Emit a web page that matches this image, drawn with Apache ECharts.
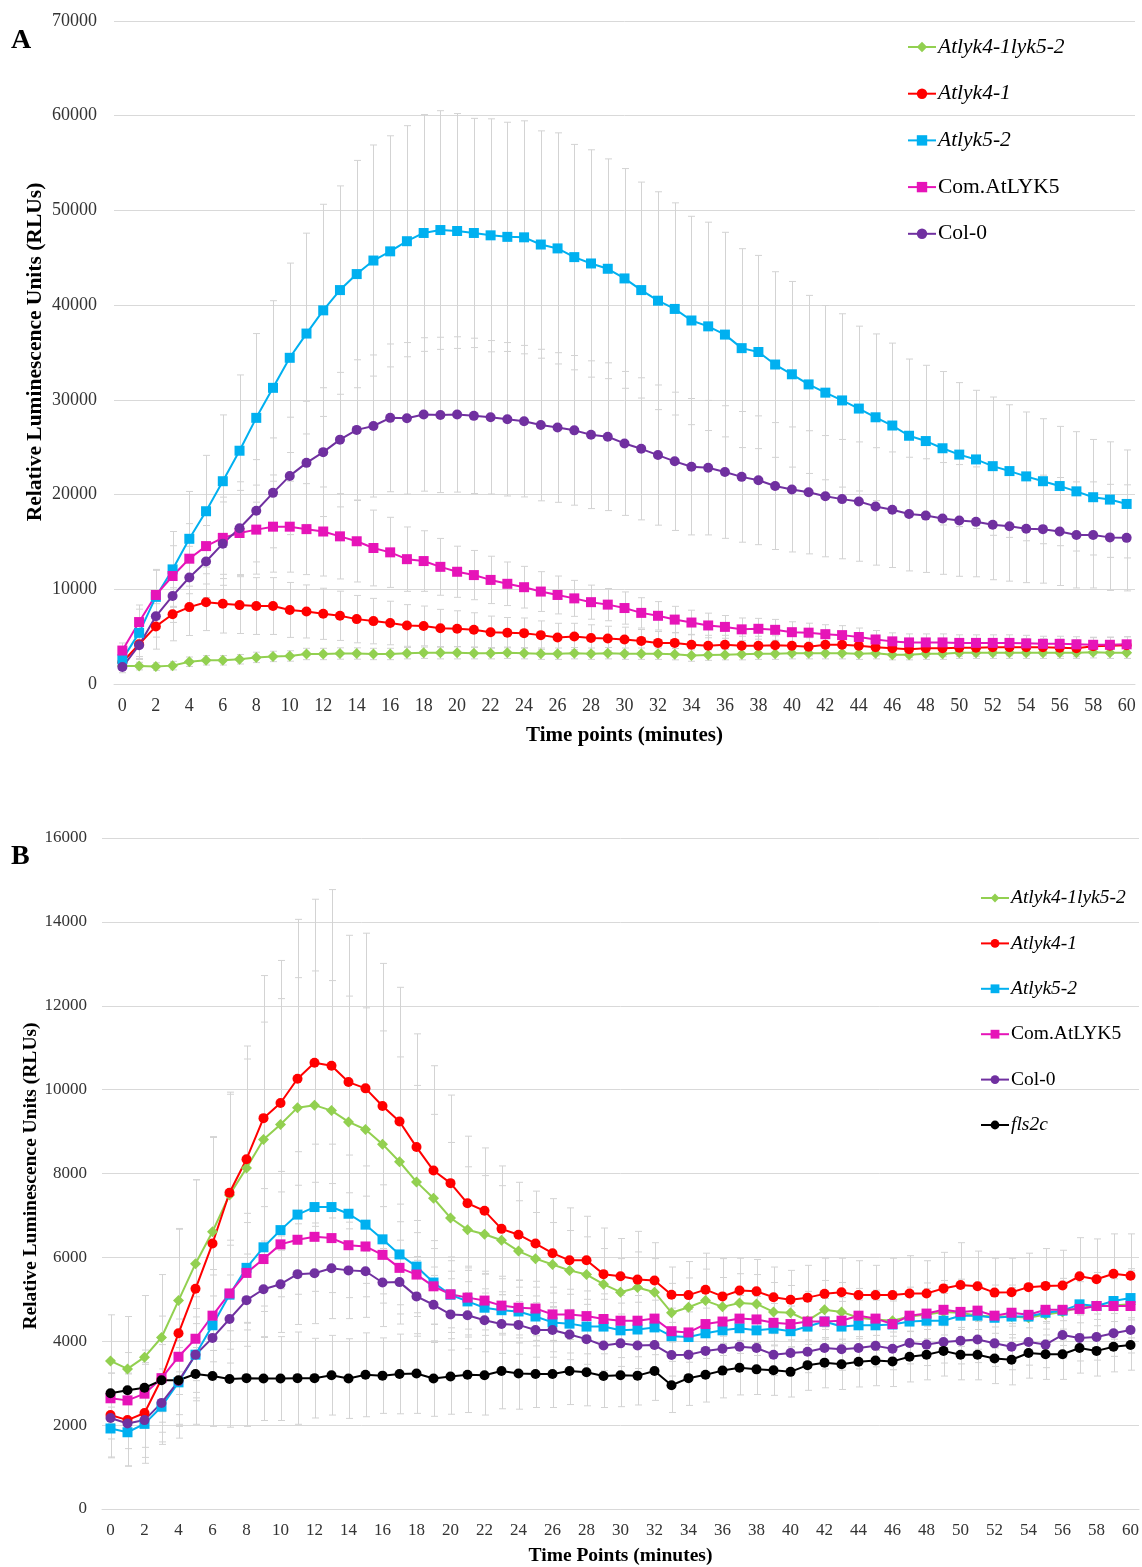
<!DOCTYPE html>
<html>
<head>
<meta charset="utf-8">
<title>Luminescence time course</title>
<script src="https://cdn.jsdelivr.net/npm/echarts@6/dist/echarts.min.js"></script>
<style>
  html, body { margin: 0; padding: 0; background: #fff; }
  #chart { width: 1142px; height: 1567px; }
</style>
</head>
<body>
<div id="chart"></div>
<script>
// x categories: time points 0..60 min
var minutes = [];
for (var m = 0; m <= 60; m++) minutes.push(String(m));

var namesA = ["Atlyk4-1lyk5-2", "Atlyk4-1", "Atlyk5-2", "Com.AtLYK5", "Col-0"];
var namesB = ["Atlyk4-1lyk5-2", "Atlyk4-1", "Atlyk5-2", "Com.AtLYK5", "Col-0", "fls2c"];
var italicNames = ["Atlyk4-1lyk5-2", "Atlyk4-1", "Atlyk5-2", "fls2c"];

// ---- panel A (RLU means) ----
var greenA = [1900,1890,1840,1940,2350,2500,2500,2610,2810,2910,2960,3170,3170,3220,3220,3170,3170,
  3250,3300,3300,3300,3250,3250,3300,3250,3200,3200,3250,3200,3250,3200,3200,3200,3150,
  3000,3050,3100,3150,3200,3200,3250,3250,3250,3250,3200,3250,3100,3100,3200,3200,3300,3300,3300,3300,3300,3300,3300,3300,3350,3300,3300];
var redA = [2300,4200,6080,7360,8120,8640,8480,8330,8230,8230,7820,7660,7410,7200,6850,6640,6440,
  6180,6130,5880,5830,5720,5470,5420,5370,5160,4910,5010,4850,4800,4700,4550,4340,4340,4140,4040,4140,4040,4040,4090,
  4040,3930,4140,4140,4040,3880,3780,3680,3780,3780,3830,3830,3880,3880,3880,3880,3830,3780,3990,4040,4090];
var cyanA = [2600,5400,9200,12100,15330,18240,21410,24630,28100,31270,34440,37000,39450,41590,43280,44710,45680,
  46750,47620,47930,47830,47620,47370,47210,47160,46400,45990,45070,44400,43840,42820,41590,40470,39600,38380,37760,36890,35460,35050,33730,
  32700,31630,30760,29940,29080,28160,27290,26210,25650,24890,24220,23710,23000,22480,21920,21410,20900,20340,19720,19470,19010];
var pinkA = [3530,6540,9400,11400,13230,14560,15430,15940,16300,16610,16610,16350,16100,15590,15070,14360,13900,
  13180,12980,12370,11850,11500,10990,10580,10220,9760,9400,9040,8640,8380,8020,7510,7200,6800,6490,6180,6030,5770,5830,5720,
  5470,5420,5260,5160,4960,4700,4500,4390,4390,4390,4340,4340,4340,4340,4290,4240,4240,4190,4140,4140,4190];
var purpleA = [1790,4090,7150,9300,11240,12930,14820,16450,18290,20180,21970,23350,24480,25800,26830,27240,28100,
  28050,28460,28410,28460,28310,28160,27950,27750,27340,27080,26780,26320,26110,25400,24830,24170,23510,22940,22840,22380,21870,21510,20900,
  20540,20240,19830,19520,19260,18750,18400,17940,17780,17480,17270,17120,16810,16660,16400,16350,16100,15740,15740,15480,15430];

// error bars (+/-) panel A
var greenErrA = [400,400,400,450,500,500,500,500,550,550,550,600,600,600,600,600,600,
  600,600,650,650,600,600,600,600,600,600,600,600,600,600,600,600,600,600,550,550,600,600,600,
  600,600,600,600,600,600,550,550,600,600,600,600,600,600,600,600,600,600,600,600,600];
var redErrA = [600,1500,2400,2800,3000,3000,3100,3000,3000,3000,2900,2800,2700,2600,2500,2400,2300,
  2200,2100,2000,1900,1800,1700,1600,1600,1500,1500,1400,1400,1300,1300,1200,1200,1100,1100,1100,1000,1000,1000,1000,
  1000,950,950,950,900,900,900,900,900,900,900,900,900,900,900,900,900,900,900,900,900];
var cyanErrA = [1000,2500,2900,4000,5000,5900,7000,8000,8900,9200,10000,10600,11200,11000,12000,12200,12200,
  12200,12500,12600,12400,12100,12300,12100,12300,12000,12200,11900,12000,11600,11600,11400,11500,11200,11000,11000,10800,10500,10200,9800,
  9800,9400,9200,9150,8700,8800,8700,8100,8000,8100,7600,7300,7300,7000,6800,6600,6300,6300,6100,6100,5700];
var pinkErrA = [800,1800,2600,3200,3700,4000,4300,4500,4700,4800,4800,4800,4700,4500,4300,4000,3700,
  3400,3200,3000,2700,2600,2500,2300,2200,2100,2000,1900,1800,1700,1700,1600,1500,1400,1300,1300,1200,1200,1100,1100,
  1100,1000,1000,1000,950,950,900,900,900,900,850,850,850,850,850,800,800,800,800,800,800];
var purpleErrA = [600,1500,2200,2800,3300,3800,4400,4900,5400,5800,6200,6500,6800,7100,7400,7500,7800,
  8000,8100,8200,8200,8200,8100,8100,8000,8000,7900,7900,7800,7800,7600,7500,7400,7300,7200,7100,7000,6900,6800,6700,
  6600,6500,6400,6300,6300,6200,6100,6000,6000,5900,5900,5800,5800,5800,5700,5700,5700,5600,5600,5600,5600];

// ---- panel B (RLU means) ----
var greenB = [3530,3340,3620,4090,4970,5850,6610,7490,8130,8810,9170,9570,9630,9500,9230,9050,8700,
  8280,7800,7410,6940,6660,6550,6410,6150,5970,5830,5690,5590,5360,5170,5280,5170,4680,4810,4970,4820,4910,4890,4700,
  4680,4490,4750,4700,4560,4520,4490,4590,4640,4700,4680,4610,4590,4590,4560,4640,4700,4800,4840,4850,4880];
var redB = [2240,2120,2290,3100,4190,5250,6330,7540,8340,9320,9680,10260,10640,10570,10180,10030,9610,
  9240,8630,8070,7770,7290,7110,6680,6540,6330,6100,5930,5930,5600,5550,5470,5450,5110,5100,5230,5070,5210,5190,5050,
  4990,5040,5130,5170,5100,5100,5100,5140,5140,5260,5340,5310,5160,5170,5290,5320,5330,5550,5480,5610,5560];
var cyanB = [1920,1830,2030,2440,3020,3680,4380,5110,5750,6240,6650,7020,7200,7200,7040,6780,6430,
  6070,5780,5400,5110,4950,4800,4740,4710,4590,4450,4420,4350,4350,4260,4280,4330,4120,4100,4190,4260,4310,4260,4300,
  4240,4350,4470,4350,4380,4380,4400,4470,4490,4490,4610,4610,4560,4590,4590,4680,4730,4880,4840,4960,5030];
var pinkB = [2640,2590,2750,3120,3630,4060,4610,5140,5630,5960,6310,6420,6490,6460,6290,6260,6060,
  5750,5590,5310,5120,5040,4970,4850,4800,4780,4640,4640,4600,4530,4490,4490,4540,4240,4210,4410,4470,4540,4520,4440,
  4410,4470,4470,4490,4610,4540,4410,4610,4660,4750,4700,4730,4610,4680,4630,4750,4750,4770,4840,4840,4840];
var purpleB = [2170,2040,2120,2530,3050,3680,4080,4530,4980,5240,5360,5600,5620,5740,5690,5670,5400,
  5410,5070,4870,4640,4620,4500,4410,4390,4270,4270,4160,4050,3900,3950,3900,3910,3670,3680,3770,3820,3870,3840,3680,
  3720,3750,3840,3810,3840,3890,3820,3960,3920,3980,4010,4040,3950,3870,3980,3920,4150,4080,4100,4190,4270];
var blackB = [2760,2830,2890,3070,3070,3220,3170,3100,3120,3110,3110,3120,3120,3190,3110,3200,3180,
  3220,3230,3110,3160,3200,3190,3290,3230,3220,3220,3290,3260,3170,3190,3180,3290,2950,3120,3200,3300,3370,3330,3310,
  3270,3430,3490,3450,3510,3540,3520,3630,3680,3770,3680,3680,3590,3560,3720,3690,3690,3840,3770,3870,3910];

// error bars (+/-) panel B
var greenErrB = [1100,1250,1470,1500,1700,2000,2250,2400,2600,2800,3000,3100,3200,3100,3000,2900,2700,
  2500,2300,2000,1800,1500,1400,1300,1200,1100,1000,950,900,850,800,850,800,700,700,750,700,700,700,700,
  650,700,700,700,700,700,700,700,750,750,800,800,750,750,750,750,800,800,800,800,800];
var redErrB = [1000,1100,1200,1500,2500,2600,2550,2400,2700,3400,3400,3800,3900,4200,3500,3700,3400,
  3200,2700,2500,2100,1600,1500,1500,1250,1250,1300,1250,1050,1100,900,1150,900,660,800,870,900,770,760,720,
  700,770,850,810,820,710,880,900,780,860,1010,840,820,810,810,890,840,920,960,950,1000];
var cyanErrB = [700,800,800,900,1000,1100,1200,1300,1300,1400,1400,1500,1500,1500,1400,1400,1300,
  1200,1100,1000,900,800,800,750,750,700,700,700,650,650,650,650,650,600,600,600,600,600,600,600,
  600,600,600,600,600,600,600,600,600,650,650,650,650,650,650,650,700,700,700,700,700];
var pinkErrB = [600,650,700,800,900,1000,1100,1150,1200,1250,1250,1300,1300,1300,1250,1200,1150,
  1100,1000,900,800,750,700,700,650,650,650,600,600,600,600,600,600,550,550,550,550,550,550,550,
  550,550,550,550,550,550,550,600,600,600,600,600,600,600,600,600,600,650,650,650,650];
var purpleErrB = [500,600,650,700,800,900,1000,1050,1100,1150,1150,1200,1200,1200,1150,1100,1050,
  1000,950,900,850,800,750,700,700,650,650,600,600,600,550,550,550,500,500,500,500,500,500,500,
  500,500,500,500,500,500,500,500,500,500,550,550,550,550,550,550,550,550,550,550,550];
var blackErrB = [800,900,900,1000,1100,1200,1200,1150,1150,1000,1000,1100,950,950,950,1000,900,
  950,950,900,900,900,950,900,850,800,800,800,800,750,750,700,700,650,650,650,650,650,600,600,
  600,600,600,600,600,600,600,600,600,600,600,600,600,600,600,600,600,600,600,600,600];

var styles = {
  "Atlyk4-1lyk5-2": { color: "#92D050", symbol: "diamond", size: 11 },
  "Atlyk4-1": { color: "#FF0000", symbol: "circle", size: 10 },
  "Atlyk5-2": { color: "#00B0F0", symbol: "rect", size: 10 },
  "Com.AtLYK5": { color: "#E614B8", symbol: "rect", size: 10 },
  "Col-0": { color: "#7030A0", symbol: "circle", size: 10 },
  "fls2c": { color: "#000000", symbol: "circle", size: 10 }
};

var SERIF = "Liberation Serif";
var Y_TITLE = "Relative Luminescence Units (RLUs)";

// grey error bar with caps
function renderErr(params, api) {
  var x = api.value(0);
  var lo = api.coord([x, api.value(1)]);
  var hi = api.coord([x, api.value(2)]);
  var w = 3.5;
  var cx = Math.round(lo[0]) + 0.5;
  var st = { stroke: "#D3D3D3", lineWidth: 1 };
  return {
    type: "group",
    children: [
      { type: "line", shape: { x1: cx, y1: lo[1], x2: cx, y2: hi[1] }, style: st },
      { type: "line", shape: { x1: cx - w, y1: lo[1], x2: cx + w, y2: lo[1] }, style: st },
      { type: "line", shape: { x1: cx - w, y1: hi[1], x2: cx + w, y2: hi[1] }, style: st }
    ]
  };
}

function panelSeries(axisIndex, names, values, errors) {
  var out = [];
  names.forEach(function (name, k) {
    out.push({
      name: name + " SD",
      type: "custom",
      xAxisIndex: axisIndex,
      yAxisIndex: axisIndex,
      renderItem: renderErr,
      encode: { x: 0, y: [1, 2] },
      silent: true,
      z: 2,
      data: values[k].map(function (v, i) {
        return [i, v - errors[k][i], v + errors[k][i]];
      })
    });
  });
  names.forEach(function (name, k) {
    var st = styles[name];
    out.push({
      name: name,
      type: "line",
      xAxisIndex: axisIndex,
      yAxisIndex: axisIndex,
      data: values[k],
      symbol: st.symbol,
      symbolSize: st.size,
      showAllSymbol: true,
      color: st.color,
      lineStyle: { width: 2, color: st.color },
      itemStyle: { color: st.color },
      z: 3
    });
  });
  return out;
}

function legendFormatter(name) {
  return italicNames.indexOf(name) >= 0 ? "{i|" + name + "}" : "{n|" + name + "}";
}

function makeLegend(names, left, top, fontSize, lineH, gap, iconH) {
  return {
    data: names,
    orient: "vertical",
    left: left,
    top: top,
    padding: 0,
    itemWidth: 28,
    itemHeight: iconH,
    itemGap: gap,
    selectedMode: false,
    formatter: legendFormatter,
    textStyle: {
      color: "#000",
      fontFamily: SERIF,
      fontSize: fontSize,
      lineHeight: lineH,
      padding: [0, 0, 0, -3],
      rich: {
        i: { fontFamily: SERIF, fontStyle: "italic", fontSize: fontSize, lineHeight: lineH, color: "#000" },
        n: { fontFamily: SERIF, fontSize: fontSize, lineHeight: lineH, color: "#000" }
      }
    }
  };
}

function xAxisCfg(gridIndex, title, fontSize, titleSize, gap) {
  return {
    type: "category",
    gridIndex: gridIndex,
    data: minutes,
    boundaryGap: true,
    axisLine: { lineStyle: { color: "#D9D9D9", width: 1 } },
    axisTick: { show: false },
    axisLabel: { interval: 1, color: "#333", fontFamily: SERIF, fontSize: fontSize, margin: 13 },
    name: title,
    nameLocation: "middle",
    nameGap: gap,
    nameMoveOverlap: false,
    nameTextStyle: { color: "#000", fontFamily: SERIF, fontWeight: "bold", fontSize: titleSize }
  };
}

function yAxisCfg(gridIndex, max, interval, fontSize, margin) {
  return {
    type: "value",
    gridIndex: gridIndex,
    min: 0,
    max: max,
    interval: interval,
    axisLine: { show: false },
    axisTick: { show: false },
    splitLine: { lineStyle: { color: "#D9D9D9", width: 1 } },
    axisLabel: {
      color: "#333", fontFamily: SERIF, fontSize: fontSize, margin: margin,
      formatter: function (v) { return String(v); }
    }
  };
}

// rotated y-axis title, placed by centre point
function yTitle(cx, cy, size) {
  return {
    type: "text",
    x: cx,
    y: cy,
    rotation: Math.PI / 2,
    style: {
      text: Y_TITLE,
      align: "center",
      verticalAlign: "middle",
      font: "bold " + size + "px 'Liberation Serif'",
      fill: "#000"
    }
  };
}

var chart = echarts.init(document.getElementById("chart"), null, { renderer: "canvas" });

var series = []
  .concat(panelSeries(0, namesA, [greenA, redA, cyanA, pinkA, purpleA],
    [greenErrA, redErrA, cyanErrA, pinkErrA, purpleErrA]))
  .concat(panelSeries(1, namesB, [greenB, redB, cyanB, pinkB, purpleB, blackB],
    [greenErrB, redErrB, cyanErrB, pinkErrB, purpleErrB, blackErrB]));

chart.setOption({
  animation: false,
  backgroundColor: "#fff",
  grid: [
    { left: 114, top: 21, width: 1021, height: 663 },
    { left: 102, top: 838, width: 1040, height: 674 }
  ],
  xAxis: [
    xAxisCfg(0, "Time points (minutes)", 18, 21, 41),
    xAxisCfg(1, "Time Points (minutes)", 17, 19.5, 37)
  ],
  yAxis: [
    yAxisCfg(0, 70000, 10000, 18, 17),
    yAxisCfg(1, 16000, 2000, 17, 15)
  ],
  legend: [
    makeLegend(namesA, 907, 35, 21.5, 24, 22.7, 13),
    makeLegend(namesB, 980, 887, 19.5, 22, 23.4, 11)
  ],
  graphic: [
    { type: "text", left: 11, top: 27, style: { text: "A", font: "bold 28px 'Liberation Serif'", fill: "#000" } },
    { type: "text", left: 11, top: 843, style: { text: "B", font: "bold 28px 'Liberation Serif'", fill: "#000" } },
    yTitle(35, 352, 21.5),
    yTitle(31, 1176, 19.5)
  ],
  series: series
});
</script>
</body>
</html>
